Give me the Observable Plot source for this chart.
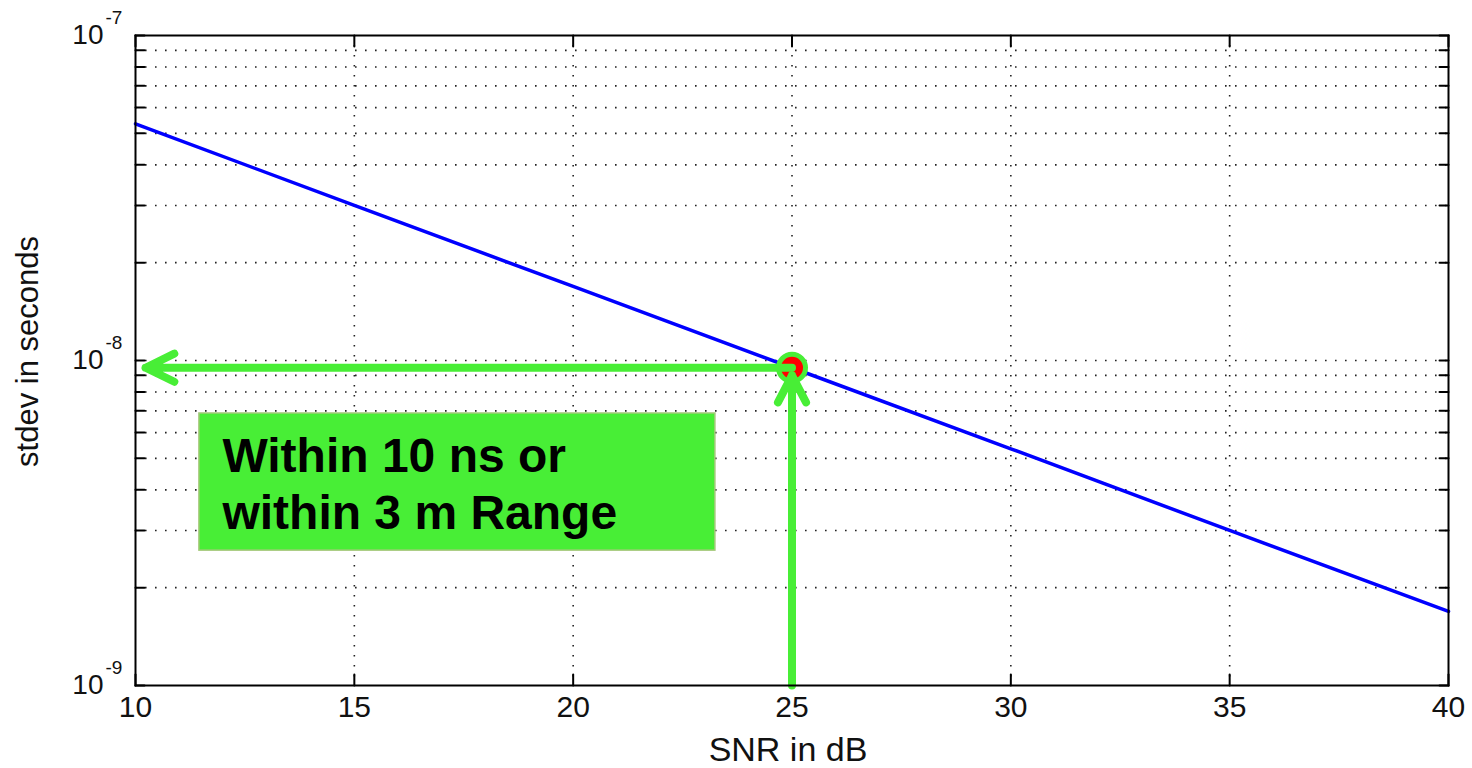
<!DOCTYPE html>
<html><head><meta charset="utf-8">
<script src="https://cdn.jsdelivr.net/npm/d3@7"></script>
<script src="https://cdn.jsdelivr.net/npm/@observablehq/plot@0.6"></script>
<style>html,body{margin:0;padding:0;background:#fff;overflow:hidden}</style>
</head><body><div id="chart"></div>
<script>
// ---- data ----
const snr = [10, 15, 20, 25, 30, 35, 40];
const stdev = [5.35e-8, 3.0e-8, 1.69e-8, 9.5e-9, 5.35e-9, 3.0e-9, 1.69e-9];
const xTicks = [10, 15, 20, 25, 30, 35, 40];
const xGrid = [15, 20, 25, 30, 35];
const yMajor = [1e-9, 1e-8, 1e-7];
const yExponents = ["-9", "-8", "-7"];
const yMinor = [2e-9, 3e-9, 4e-9, 5e-9, 6e-9, 7e-9, 8e-9, 9e-9, 2e-8, 3e-8, 4e-8, 5e-8, 6e-8, 7e-8, 8e-8, 9e-8];
const yGrid = [...yMinor, 1e-8];
const yTickAll = [...yMajor, ...yMinor];
const xLabel = "SNR in dB";
const yLabel = "stdev in seconds";
// annotation (data coordinates)
const markSNR = [25];
const markStdev = [9.5e-9];
const hArrow = [{x1: 25, y1: 9.5e-9, x2: 10.23, y2: 9.5e-9}];
const vArrow = [{x1: 25, y1: 1e-9, x2: 25, y2: 9.0e-9}];
const boxX = [11.46, 23.25];
const boxY = [2.6e-9, 6.87e-9];
const boxLines = ["Within 10 ns or", "within 3 m Range"];

const green = "#48ee36";
const font = "'Liberation Sans', Arial, Helvetica, sans-serif";
const tickShape = {draw(ctx, l) { ctx.moveTo(0, 0); ctx.lineTo(0, -l); }};
const lineData = snr.map((s, i) => ({snr: s, stdev: stdev[i]}));

const chart = Plot.plot({
  width: 1472, height: 768,
  marginLeft: 135, marginRight: 24, marginTop: 35, marginBottom: 83,
  x: {domain: [10, 40], axis: null},
  y: {type: "log", domain: [1e-9, 1e-7], axis: null},
  style: {background: "white", fontFamily: font, color: "black"},
  marks: [
    // dotted grid
    Plot.ruleY(yGrid, {y: d => d, stroke: "#222", strokeWidth: 1.6, strokeDasharray: "1.6,8.4"}),
    Plot.ruleX(xGrid, {x: d => d, stroke: "#222", strokeWidth: 1.6, strokeDasharray: "1.6,8.4"}),
    // inner ticks
    Plot.vector(yTickAll, {x: 10, y: d => d, rotate: 90, length: 9, anchor: "start", shape: tickShape, stroke: "black", strokeWidth: 2}),
    Plot.vector(yTickAll, {x: 40, y: d => d, rotate: -90, length: 9, anchor: "start", shape: tickShape, stroke: "black", strokeWidth: 2}),
    Plot.vector(xTicks, {x: d => d, y: 1e-9, rotate: 0, length: 11, anchor: "start", shape: tickShape, stroke: "black", strokeWidth: 2}),
    Plot.vector(xTicks, {x: d => d, y: 1e-7, rotate: 180, length: 11, anchor: "start", shape: tickShape, stroke: "black", strokeWidth: 2}),
    // series
    Plot.line(lineData, {x: "snr", y: "stdev", stroke: "#0000ff", strokeWidth: 3.5}),
    // annotation box
    Plot.rect([0], {x1: boxX[0], x2: boxX[1], y1: boxY[0], y2: boxY[1], fill: green, stroke: "#a5c87a", strokeWidth: 1.5}),
    Plot.text([boxLines.join("\n")], {x: boxX[0], y: boxY[1], text: d => d, textAnchor: "start", lineAnchor: "top",
      dx: 23, dy: 17.5, fontSize: 48, fontWeight: "bold", lineHeight: 1.2, fill: "black", fontFamily: font}),
    // marker
    Plot.dot(markSNR, {x: d => d, y: (d, i) => markStdev[i], r: 13.5, fill: "red", stroke: green, strokeWidth: 5}),
    // arrows
    Plot.arrow(hArrow, {x1: "x1", y1: "y1", x2: "x2", y2: "y2", stroke: green, strokeWidth: 8, headLength: 6, headAngle: 52, strokeLinecap: "round", strokeLinejoin: "round"}),
    Plot.arrow(vArrow, {x1: "x1", y1: "y1", x2: "x2", y2: "y2", stroke: green, strokeWidth: 8, headLength: 5.7, headAngle: 55, strokeLinecap: "round", strokeLinejoin: "round"}),
    // frame
    Plot.frame({stroke: "black", strokeWidth: 2}),
    // y tick labels 10^n
    Plot.text(yMajor, {y: d => d, text: () => "10", frameAnchor: "left", textAnchor: "end", lineAnchor: "bottom", dx: -32, dy: 8, fontSize: 28, fill: "#111", ariaLabel: "ytick-label"}),
    Plot.text(yMajor, {y: d => d, text: (d, i) => yExponents[i], frameAnchor: "left", textAnchor: "start", lineAnchor: "bottom", dx: -30, dy: -12, fontSize: 19, fill: "#111", ariaLabel: "ytick-sup"}),
    // x tick labels
    Plot.text(xTicks, {x: d => d, text: d => String(d), frameAnchor: "bottom", textAnchor: "middle", lineAnchor: "bottom", dy: 31, fontSize: 30, fill: "#111", ariaLabel: "xtick-label"}),
    // axis labels
    Plot.text([xLabel], {text: d => d, frameAnchor: "bottom", textAnchor: "middle", lineAnchor: "bottom", dx: -4, dy: 75, fontSize: 34, fill: "#111", ariaLabel: "x-label"}),
    Plot.text([yLabel], {text: d => d, frameAnchor: "left", rotate: -90, textAnchor: "middle", lineAnchor: "bottom", dx: -98, dy: -9, fontSize: 31, fill: "#111", ariaLabel: "y-label"})
  ]
});

// widen axis text slightly to match the wide raster font of the original
const stretch = {"ytick-label": 1.25, "ytick-sup": 1.2, "xtick-label": 1.15, "x-label": 1.18, "y-label": 1.25};
for (const [label, s] of Object.entries(stretch)) {
  chart.querySelectorAll(`g[aria-label="${label}"] text`).forEach(t => {
    t.setAttribute("transform", (t.getAttribute("transform") || "") + ` scale(${s},1)`);
  });
}
document.getElementById("chart").appendChild(chart);
</script>
</body></html>
